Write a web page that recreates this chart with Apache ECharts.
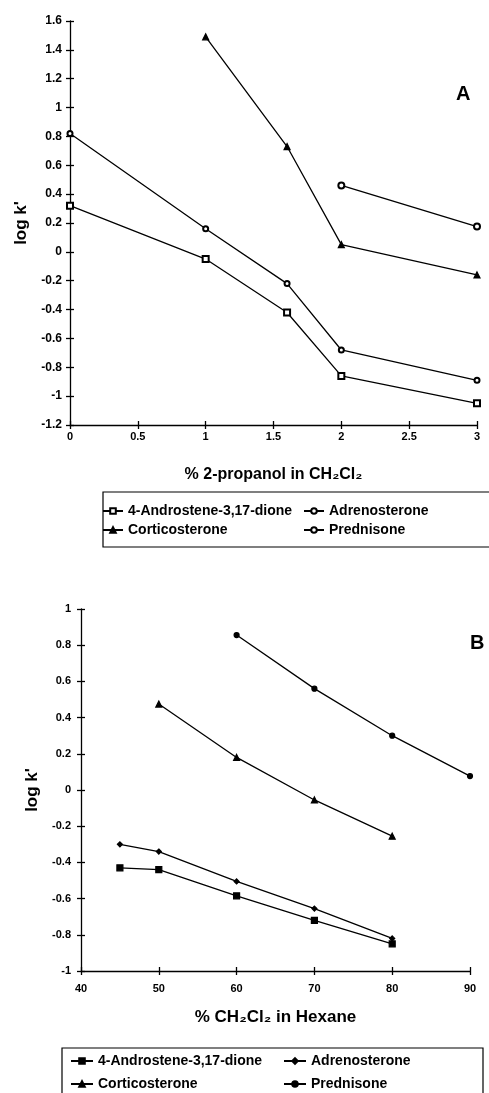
<!DOCTYPE html>
<html>
<head>
<meta charset="utf-8">
<script src="https://cdn.jsdelivr.net/npm/echarts@6/dist/echarts.min.js"></script>
<style>
html,body{margin:0;padding:0;background:#fff;}
#c{width:489px;height:1093px;}
</style>
</head>
<body>
<div id="c"></div>
<script>
// ---- Data: panel A (% 2-propanol in CH2Cl2) ----
const xA = [0, 1, 1.6, 2, 3];
const androA = [0.32, -0.05, -0.42, -0.86, -1.05];
const adrenoA = [0.82, 0.16, -0.22, -0.68, -0.89];
const corticoA = [null, 1.49, 0.73, 0.05, -0.16];
const predA = [null, null, null, 0.46, 0.175];

// ---- Data: panel B (% CH2Cl2 in Hexane) ----
const xB = [45, 50, 60, 70, 80, 90];
const androB = [-0.43, -0.44, -0.585, -0.72, -0.85, null];
const adrenoB = [-0.30, -0.34, -0.505, -0.655, -0.82, null];
const corticoB = [null, 0.475, 0.18, -0.055, -0.255, null];
const predB = [null, null, 0.856, 0.56, 0.30, 0.077];

const names = ['4-Androstene-3,17-dione', 'Adrenosterone', 'Corticosterone', 'Prednisone'];
const labelA = 'A';
const labelB = 'B';
const xTitleA = '% 2-propanol in CH\u2082Cl\u2082';
const xTitleB = '% CH\u2082Cl\u2082 in Hexane';
const yTitle = "log k'";

function pairs(xs, ys) {
  const out = [];
  xs.forEach((x, i) => { if (ys[i] != null) out.push([x, ys[i]]); });
  return out;
}

const FONT = 'Liberation Sans, Arial, sans-serif';
const BLACK = '#000';

function mkSeries(prefix, name, xs, ys, symbol, size, axisIdx) {
  return {
    name: prefix + name,
    type: 'line',
    xAxisIndex: axisIdx, yAxisIndex: axisIdx,
    data: pairs(xs, ys),
    symbol: symbol,
    symbolSize: size,
    showAllSymbol: true,
    lineStyle: { color: BLACK, width: 1.3 },
    itemStyle: { color: BLACK, borderColor: BLACK, borderWidth: 1.2 },
    emphasis: { disabled: true },
    silent: true,
    animation: false
  };
}

function axisPair(kind, gridIndex, min, max, interval, labelSize, margin, name, nameGap, nameSize) {
  const pos = kind === 'y' ? 'left' : 'bottom';
  const base = {
    type: 'value', gridIndex: gridIndex, min: min, max: max, interval: interval,
    position: pos, offset: 0,
    splitLine: { show: false }
  };
  const main = Object.assign({}, base, {
    axisLine: { show: true, onZero: false, lineStyle: { color: BLACK, width: 1.3 } },
    axisTick: { show: true, inside: false, length: 4, lineStyle: { color: BLACK, width: 1.3 } },
    axisLabel: { show: true, color: BLACK, fontFamily: FONT, fontWeight: 'bold', fontSize: labelSize, margin: margin },
    name: name, nameLocation: 'middle', nameGap: nameGap,
    nameTextStyle: { color: BLACK, fontFamily: FONT, fontWeight: 'bold', fontSize: nameSize }
  });
  if (kind === 'y') main.nameRotate = 90;
  const shadow = Object.assign({}, base, {
    axisLine: { show: false, onZero: false },
    axisTick: { show: true, inside: true, length: 4, lineStyle: { color: BLACK, width: 1.3 } },
    axisLabel: { show: false }
  });
  return [main, shadow];
}

const xAxes = [
  ...axisPair('x', 0, 0, 3, 0.5, 11, 6, xTitleA, 42, 16),
  ...axisPair('x', 1, 40, 90, 10, 11, 12, xTitleB, 38, 17)
];
const yAxes = [
  ...axisPair('y', 0, -1.2, 1.6, 0.2, 12, 8, yTitle, 40, 17),
  ...axisPair('y', 1, -1, 1, 0.2, 11, 10, yTitle, 39, 17)
];

// panel A series use axes 0, panel B series use axes 2
const series = [
  mkSeries('A|', names[0], xA, androA, 'emptyRect', 6, 0),
  mkSeries('A|', names[1], xA, adrenoA, 'emptyCircle', 5, 0),
  mkSeries('A|', names[2], xA, corticoA, 'triangle', 6, 0),
  mkSeries('A|', names[3], xA, predA, 'emptyCircle', 6, 0),
  mkSeries('B|', names[0], xB, androB, 'rect', 6, 2),
  mkSeries('B|', names[1], xB, adrenoB, 'diamond', 5, 2),
  mkSeries('B|', names[2], xB, corticoB, 'triangle', 6, 2),
  mkSeries('B|', names[3], xB, predB, 'circle', 5, 2)
];

function mkLegend(seriesName, left, top, itemWidth) {
  return {
    data: [seriesName],
    left: left, top: top,
    padding: 0,
    itemWidth: itemWidth, itemHeight: 7,
    selectedMode: false,
    formatter: n => n.slice(2),
    textStyle: { color: BLACK, fontFamily: FONT, fontWeight: 'bold', fontSize: 14 }
  };
}

const legends = [
  mkLegend('A|' + names[0], 102, 504, 20),
  mkLegend('A|' + names[1], 303, 504, 20),
  mkLegend('A|' + names[2], 102, 523, 20),
  mkLegend('A|' + names[3], 303, 523, 20),
  mkLegend('B|' + names[0], 70, 1054, 22),
  mkLegend('B|' + names[1], 283, 1054, 22),
  mkLegend('B|' + names[2], 70, 1077, 22),
  mkLegend('B|' + names[3], 283, 1077, 22)
];

const chart = echarts.init(document.getElementById('c'), null, { renderer: 'canvas' });
chart.setOption({
  animation: false,
  backgroundColor: '#fff',
  textStyle: { fontFamily: FONT },
  grid: [
    { left: 70, top: 21, width: 407, height: 404, containLabel: false },
    { left: 81, top: 609, width: 389, height: 362, containLabel: false }
  ],
  xAxis: xAxes,
  yAxis: yAxes,
  legend: legends,
  series: series,
  graphic: [
    { type: 'rect', shape: { x: 103, y: 492, width: 390, height: 55 }, style: { fill: 'none', stroke: BLACK, lineWidth: 1.2 }, silent: true },
    { type: 'rect', shape: { x: 62, y: 1048, width: 421, height: 60 }, style: { fill: 'none', stroke: BLACK, lineWidth: 1.2 }, silent: true },
    { type: 'text', left: 456, top: 84, style: { text: labelA, fill: BLACK, font: 'bold 20px ' + FONT }, silent: true },
    { type: 'text', left: 470, top: 633, style: { text: labelB, fill: BLACK, font: 'bold 20px ' + FONT }, silent: true }
  ]
});
</script>
</body>
</html>
